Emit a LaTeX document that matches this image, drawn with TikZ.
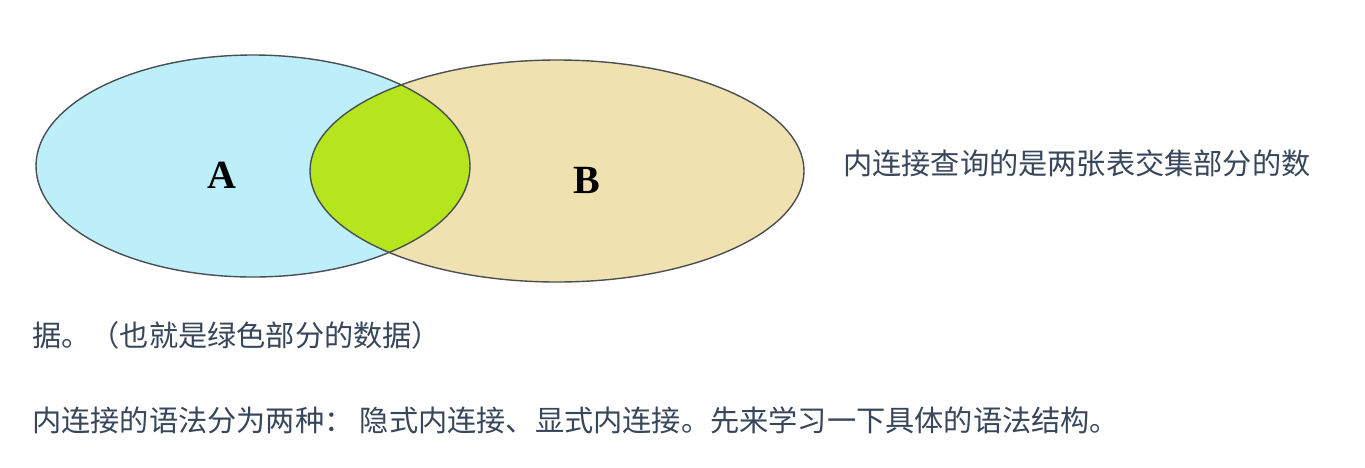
\documentclass[tikz,border=0pt]{standalone}
\usepackage{fontspec}
\setmainfont{Liberation Serif}
\newfontfamily\cjk{Noto Sans CJK SC}
\usetikzlibrary{positioning}
\definecolor{setAfill}{HTML}{BDEFFA}
\definecolor{setBfill}{HTML}{EFE2B0}
\definecolor{joinfill}{HTML}{B5E51D}
\definecolor{rim}{HTML}{4A4F53}
\definecolor{prose}{HTML}{37465A}

\begin{document}
\begin{tikzpicture}[x=1pt, y=-1pt,
    rimline/.style={draw=rim, line width=1.4pt},
    setlabel/.style={font=\fontsize{40}{40}\selectfont\bfseries, inner sep=0},
    para/.style={font=\cjk\fontsize{29.2}{29.2}\selectfont, text=prose,
      anchor=west, inner sep=0}]
  \useasboundingbox[fill=white] (0,0) rectangle (1365,467);
  % the two sets
  \fill[setAfill] (253,166) ellipse [x radius=217, y radius=111];
  \fill[setBfill] (557,171) ellipse [x radius=247, y radius=111];
  \begin{scope}
    \clip (253,166) ellipse [x radius=217, y radius=111];
    \fill[joinfill] (557,171) ellipse [x radius=247, y radius=111];
  \end{scope}
  \draw[rimline] (253,166) ellipse [x radius=217, y radius=111];
  \draw[rimline] (557,171) ellipse [x radius=247, y radius=111];
  \node[setlabel] (labA) at (222,175) {A};
  \node[setlabel] (labB) at (587,180) {B};
  % text
  \node[para] (line1) at (843,163) {内连接查询的是两张表交集部分的数};
  \node[para] (line2) at (32,335) {据。（也就是绿色部分的数据）};
  \node[para] (line3) at (32,420) {内连接的语法分为两种： 隐式内连接、显式内连接。先来学习一下具体的语法结构。};
\end{tikzpicture}
\end{document}
